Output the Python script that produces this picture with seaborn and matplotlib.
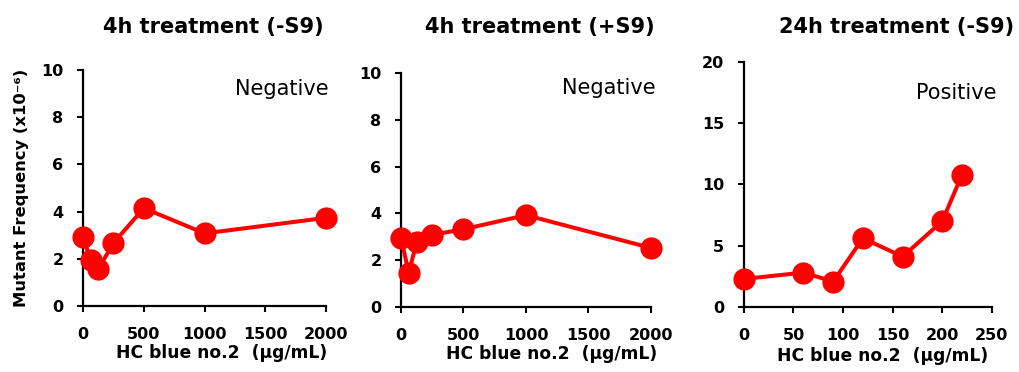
import matplotlib
matplotlib.use("Agg")
import matplotlib.pyplot as plt
import seaborn as sns
import pandas as pd

# doses (ug/mL) and mutant frequencies (x10^-6)
dose_4h = [0, 62.5, 125, 250, 500, 1000, 2000]
mf_4h_minus = [2.92, 1.95, 1.57, 2.67, 4.15, 3.08, 3.74]
mf_4h_plus = [2.95, 1.45, 2.78, 3.08, 3.32, 3.92, 2.52]
dose_24h = [0, 60, 90, 120, 160, 200, 220]
mf_24h_minus = [2.28, 2.8, 2.07, 5.6, 4.1, 7.0, 10.8]

titles = ["4h treatment (-S9)", "4h treatment (+S9)", "24h treatment (-S9)"]
verdicts = ["Negative", "Negative", "Positive"]
x_ticks = [[0, 500, 1000, 1500, 2000], [0, 500, 1000, 1500, 2000], [0, 50, 100, 150, 200, 250]]
y_ticks = [[0, 2, 4, 6, 8, 10], [0, 2, 4, 6, 8, 10], [0, 5, 10, 15, 20]]
x_label = "HC blue no.2  (\u03bcg/mL)"
y_label = "Mutant Frequency (x10\u207b\u2076)"

sns.set_theme(style="white")
plt.rcParams["font.family"] = ["DejaVu Sans"]

fig = plt.figure(figsize=(10.19, 3.72), dpi=100)
rects = [
    [0.0815, 0.177, 0.2385, 0.635],
    [0.3935, 0.175, 0.2453, 0.629],
    [0.730, 0.175, 0.2434, 0.659],
]
title_x = [213 / 1019, 540 / 1019, 897 / 1019]
verdict_pos = [(329 / 1019, 1 - 89 / 372), (656 / 1019, 1 - 88 / 372), (997 / 1019, 1 - 93 / 372)]
xlabel_pos = [0.572, 0.604, 0.56]

datasets = [(dose_4h, mf_4h_minus), (dose_4h, mf_4h_plus), (dose_24h, mf_24h_minus)]

for i, (xs, ys) in enumerate(datasets):
    ax = fig.add_axes(rects[i])
    df = pd.DataFrame({"dose": xs, "mf": ys})
    sns.lineplot(data=df, x="dose", y="mf", ax=ax, color="#ff0000", linewidth=2.9,
                 marker="o", markersize=16, markeredgewidth=0, sort=False,
                 clip_on=False, zorder=5)
    ax.set_xlim(x_ticks[i][0], x_ticks[i][-1])
    ax.set_ylim(y_ticks[i][0], y_ticks[i][-1])
    ax.set_xticks(x_ticks[i])
    ax.set_yticks(y_ticks[i])
    for side in ["top", "right"]:
        ax.spines[side].set_visible(False)
    for side in ["left", "bottom"]:
        ax.spines[side].set_color("black")
        ax.spines[side].set_linewidth(1.6)
    ax.tick_params(axis="both", direction="out", length=4, width=1.5, color="black",
                   labelsize=11.5, labelcolor="black", left=True, bottom=True)
    ax.tick_params(axis="y", pad=10)
    ax.tick_params(axis="x", pad=11)
    for lab in ax.get_xticklabels() + ax.get_yticklabels():
        lab.set_fontweight("bold")
    ax.set_xlabel(x_label, fontsize=12.3, fontweight="bold", color="black")
    ax.xaxis.set_label_coords(xlabel_pos[i], -0.2)
    ax.xaxis.label.set_verticalalignment("center")
    if i == 0:
        ax.set_ylabel(y_label, fontsize=11.8, fontweight="bold", color="black")
        ax.yaxis.set_label_coords(-0.255, 0.5)
        ax.yaxis.label.set_verticalalignment("center")
    else:
        ax.set_ylabel("")
    fig.text(title_x[i], 1 - 27 / 372, titles[i], ha="center", va="center",
             fontsize=15, fontweight="bold", color="black")
    fig.text(verdict_pos[i][0], verdict_pos[i][1], verdicts[i], ha="right", va="center",
             fontsize=15, color="black")

fig.savefig("out.png", dpi=100)
plt.close(fig)
